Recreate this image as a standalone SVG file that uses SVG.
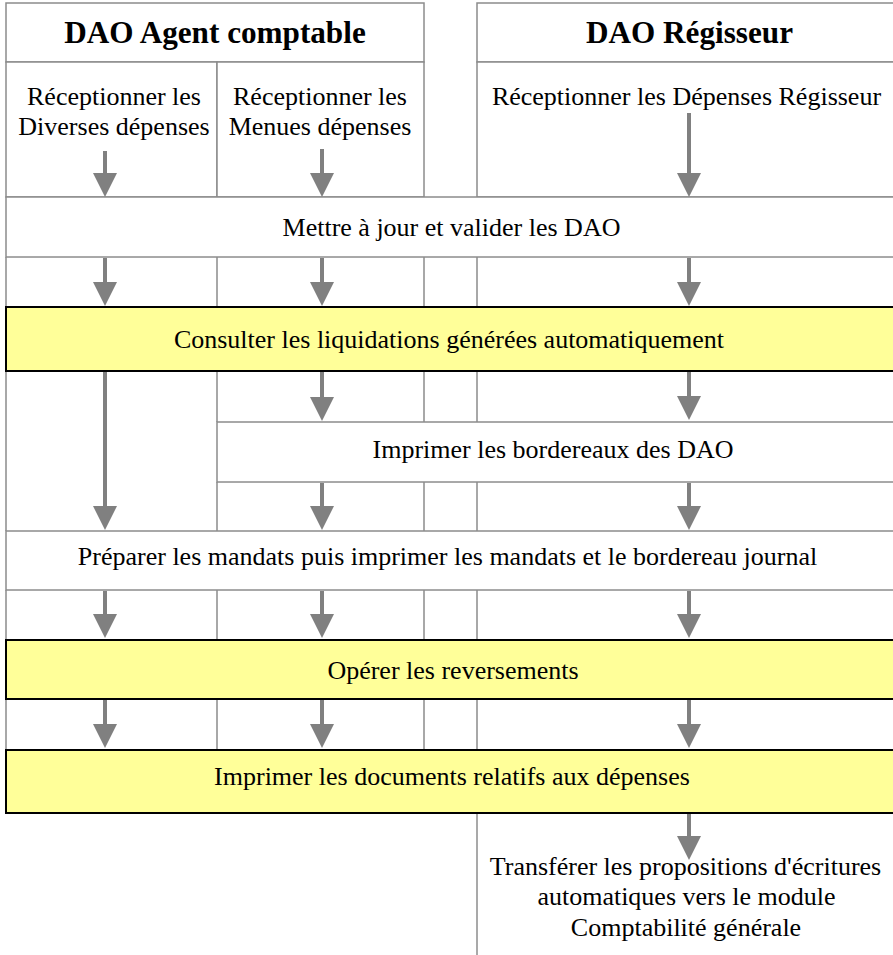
<svg xmlns="http://www.w3.org/2000/svg" width="893" height="955" viewBox="0 0 893 955">
<style>
.cell{fill:#ffffff;stroke:#8c8c8c;stroke-width:1.5}
.hi{fill:#ffff99;stroke:#000000;stroke-width:2}
.grid{stroke:#8c8c8c;stroke-width:1.5;fill:none}
.t{font-family:"Liberation Serif","Times New Roman",serif;font-size:26px;fill:#000;text-anchor:middle}
.h{font-family:"Liberation Serif","Times New Roman",serif;font-size:31.2px;font-weight:bold;fill:#000;text-anchor:middle}
.arr{stroke:#808080;stroke-width:4;fill:none;marker-end:url(#ah)}
</style>
<defs>
<marker id="ah" markerUnits="userSpaceOnUse" markerWidth="24" markerHeight="24" viewBox="0 0 24 24" refX="12" refY="12" orient="auto">
<path d="M0,0 L24,12 L0,24 Z" fill="#808080"/>
</marker>
</defs>
<rect width="893" height="955" fill="#ffffff"/>
<g id="grid" class="grid">
<path d="M6,257V307M217,257V307M424,257V307M477,257V307"/>
<path d="M6,371V531M217,371V422M424,371V422M477,371V422M217,482V531M424,482V531M477,482V531"/>
<path d="M6,590V640M217,590V640M424,590V640M477,590V640"/>
<path d="M6,699V750M217,699V750M424,699V750M477,699V750"/>
<path d="M477,813V955"/>
</g>
<g id="header-agent"><rect class="cell" x="6" y="3" width="418" height="59"/><text class="h" x="215" y="43">DAO Agent comptable</text></g>
<g id="header-regisseur"><rect class="cell" x="477" y="3" width="424" height="59"/><text class="h" x="689.5" y="43">DAO Régisseur</text></g>
<g id="recv-diverses"><rect class="cell" x="6" y="62" width="211" height="135"/><text class="t" x="114" y="105">Réceptionner les</text><text class="t" x="114" y="135">Diverses dépenses</text></g>
<g id="recv-menues"><rect class="cell" x="217" y="62" width="207" height="135"/><text class="t" x="320" y="105">Réceptionner les</text><text class="t" x="320" y="135">Menues dépenses</text></g>
<g id="recv-regisseur"><rect class="cell" x="477" y="62" width="424" height="135"/><text class="t" x="686.5" y="105">Réceptionner les Dépenses Régisseur</text></g>
<g id="mettre"><rect class="cell" x="6" y="197" width="895" height="60"/><text class="t" x="451.5" y="235.5">Mettre à jour et valider les DAO</text></g>
<g id="consulter"><rect class="hi" x="6" y="307" width="895" height="64"/><text class="t" x="449" y="348">Consulter les liquidations générées automatiquement</text></g>
<g id="imprimer-bordereaux"><rect class="cell" x="217" y="422" width="684" height="60"/><text class="t" x="553" y="457.5">Imprimer les bordereaux des DAO</text></g>
<g id="preparer"><rect class="cell" x="6" y="531" width="895" height="59"/><text class="t" x="447.5" y="565">Préparer les mandats puis imprimer les mandats et le bordereau journal</text></g>
<g id="operer"><rect class="hi" x="6" y="640" width="895" height="59"/><text class="t" x="453" y="679">Opérer les reversements</text></g>
<g id="imprimer-documents"><rect class="hi" x="6" y="750" width="895" height="63"/><text class="t" x="452" y="785">Imprimer les documents relatifs aux dépenses</text></g>
<g id="transferer"><text class="t" x="685.5" y="875">Transférer les propositions d'écritures</text><text class="t" x="686.5" y="905">automatiques vers le module</text><text class="t" x="686" y="936">Comptabilité générale</text></g>
<g id="connectors">
<line class="arr" x1="105" y1="151" x2="105" y2="185"/>
<line class="arr" x1="322" y1="149" x2="322" y2="185"/>
<line class="arr" x1="689" y1="113" x2="689" y2="185"/>
<line class="arr" x1="105" y1="258" x2="105" y2="294"/>
<line class="arr" x1="322" y1="258" x2="322" y2="294"/>
<line class="arr" x1="689" y1="258" x2="689" y2="294"/>
<line class="arr" x1="105" y1="372" x2="105" y2="518"/>
<line class="arr" x1="322" y1="372" x2="322" y2="409"/>
<line class="arr" x1="689" y1="372" x2="689" y2="408"/>
<line class="arr" x1="322" y1="483" x2="322" y2="518"/>
<line class="arr" x1="689" y1="483" x2="689" y2="518"/>
<line class="arr" x1="105" y1="591" x2="105" y2="626"/>
<line class="arr" x1="322" y1="591" x2="322" y2="626"/>
<line class="arr" x1="689" y1="591" x2="689" y2="626"/>
<line class="arr" x1="105" y1="700" x2="105" y2="736"/>
<line class="arr" x1="322" y1="700" x2="322" y2="736"/>
<line class="arr" x1="689" y1="700" x2="689" y2="736"/>
<line class="arr" x1="689" y1="814" x2="689" y2="848"/>
</g>
</svg>
